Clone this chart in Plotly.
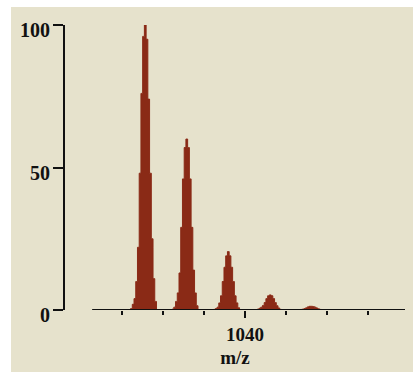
import plotly.graph_objects as go

# Isotope peak centres (m/z) and profile intensities (%)
peak_centres = [1037.53, 1038.54, 1039.55, 1040.57, 1041.58]
sample_step = 0.042
profile_offsets = [-7, -6, -5, -4, -3, -2, -1, 0, 1, 2, 3, 4, 5, 6, 7]
peak1 = [0.5, 2, 4, 10, 22, 48, 76, 96, 100, 95, 74, 48, 25, 11, 3]
peak2 = [0.3, 1, 3, 6, 13, 29, 46, 57, 60, 57, 46, 29, 14, 6, 1.5]
peak3 = [0.2, 0.5, 1, 2.5, 5, 10, 15, 19, 20.5, 19, 15, 10, 5, 2.5, 0.8]
peak4 = [0.1, 0.3, 0.6, 1, 1.6, 2.6, 4, 5, 5.3, 5, 4, 2.6, 1.5, 0.7, 0.2]
peak5 = [0, 0.1, 0.2, 0.3, 0.5, 0.8, 1.1, 1.3, 1.3, 1.2, 1, 0.7, 0.4, 0.2, 0.1]
peaks = [peak1, peak2, peak3, peak4, peak5]

x_tick_major = [1040]
x_tick_minor = [1037, 1038, 1039, 1041, 1042, 1043]
y_ticks = [0, 50, 100]
x_range = [1035.62, 1043.89]
axis_line_span = [1036.28, 1043.89]

BG = "#e6e2cc"
BAR = "#8a2a16"
INK = "#111111"
FONT = "Liberation Serif"

fig = go.Figure()
for c, prof in zip(peak_centres, peaks):
    xs = [c + o * sample_step for o in profile_offsets]
    # pad with zero-level ends so the filled step profile closes on the baseline
    xs = [xs[0] - sample_step] + xs + [xs[-1] + sample_step]
    ys = [0] + prof + [0]
    fig.add_trace(go.Scatter(x=xs, y=ys, mode="lines",
                             line=dict(shape="hvh", width=1, color=BAR),
                             fill="tozeroy", fillcolor=BAR, hoverinfo="x+y"))

annotations = [
    dict(xref="paper", yref="y", x=0, y=v, text=f"<b>{v}</b>", showarrow=False,
         xanchor="right", yanchor="middle", xshift=-13, yshift=-5,
         font=dict(family=FONT, size=20, color=INK))
    for v in y_ticks
]

fig.update_layout(
    width=413, height=375,
    margin=dict(l=65, r=8, t=25, b=65),
    paper_bgcolor=BG,
    plot_bgcolor="rgba(0,0,0,0)",
    showlegend=False,
    font=dict(family=FONT, color=INK),
    annotations=annotations,
    shapes=[
        dict(type="rect", xref="paper", yref="paper", x0=-0.3, x1=-0.1588,
             y0=-0.3, y1=1.2, fillcolor="white", line=dict(width=0), layer="below"),
        dict(type="rect", xref="paper", yref="paper", x0=-0.3, x1=1.2,
             y0=1.063, y1=1.2, fillcolor="white", line=dict(width=0), layer="below"),
        dict(type="rect", xref="paper", yref="paper", x0=-0.3, x1=1.2,
             y0=-0.3, y1=-0.2175, fillcolor="white", line=dict(width=0), layer="below"),
        dict(type="line", xref="x", yref="y", x0=axis_line_span[0], x1=axis_line_span[1],
             y0=0, y1=0, line=dict(color=INK, width=2), layer="above"),
    ],
)
fig.update_xaxes(
    range=x_range, showgrid=False, zeroline=False, showline=False,
    tickmode="array", tickvals=x_tick_major, ticktext=[f"<b>{v}</b>" for v in x_tick_major],
    ticks="outside", ticklen=7, tickwidth=1.5, tickcolor=INK,
    tickfont=dict(family=FONT, size=19, color=INK),
    minor=dict(tickmode="array", tickvals=x_tick_minor, ticks="outside",
               ticklen=4, tickwidth=1.5, tickcolor=INK, showgrid=False),
    title=dict(text="<b>m/z</b>", font=dict(family=FONT, size=19, color=INK), standoff=6),
)
fig.update_yaxes(
    range=[0, 100], showgrid=False, zeroline=False,
    showline=True, linecolor=INK, linewidth=2,
    tickmode="array", tickvals=y_ticks, ticks="outside", ticklen=10,
    tickwidth=2, tickcolor=INK, showticklabels=False,
)

fig.write_html("out.html")
